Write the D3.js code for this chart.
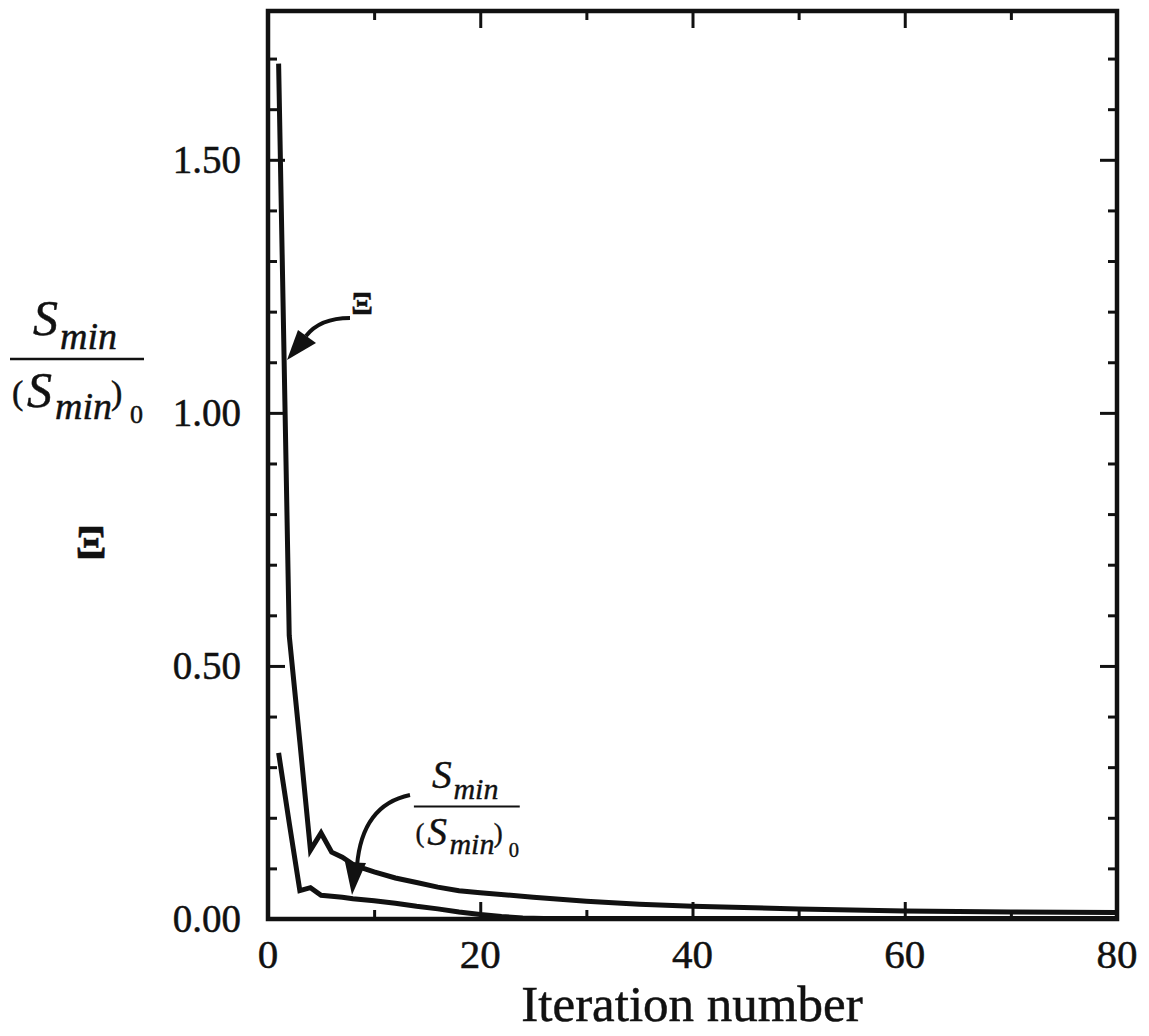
<!DOCTYPE html>
<html>
<head>
<meta charset="utf-8">
<script src="https://cdn.jsdelivr.net/npm/d3@7"></script>
<style>
  body { margin: 0; background: #fff; }
  svg text { font-family: "Liberation Serif", "Times New Roman", serif; fill: #111; stroke: #111; stroke-width: 0.5; }
</style>
</head>
<body>
<svg id="chart" width="1149" height="1036"></svg>
<script>
// iteration numbers and values
var xiIter = [1, 2, 3, 4, 5, 6, 7, 8, 9, 10, 12, 14, 16, 18, 20, 25, 30, 35, 40, 50, 60, 70, 80];
var xiVals = [1.69, 0.56, 0.35, 0.136, 0.17, 0.132, 0.122, 0.108, 0.100, 0.093, 0.081, 0.072, 0.063, 0.056, 0.052,
              0.043, 0.035, 0.029, 0.025, 0.020, 0.016, 0.014, 0.013];

var sIter = [1, 2, 3, 4, 5, 6, 7, 8, 10, 12, 14, 16, 18, 20, 22, 24, 26, 30, 40, 50, 60, 70, 80];
var sVals = [0.328, 0.19, 0.056, 0.062, 0.047, 0.045, 0.043, 0.040, 0.036, 0.031, 0.025, 0.020, 0.014, 0.009,
             0.005, 0.002, 0.001, 0.001, 0.001, 0.001, 0.001, 0.001, 0.001];

var xTicks = [0, 20, 40, 60, 80];
var yTicks = [0, 0.5, 1.0, 1.5];

var padL = 268, padR = 1117, padT = 11, padB = 919;

var svg = d3.select("#chart");

var xScale = d3.scaleLinear().domain([0, 80]).range([padL, padR]);
var yScale = d3.scaleLinear().domain([0, 1.794]).range([padB, padT]);

// inward ticks on all four sides, minor every 10 / 0.1
function drawTicks(axisFn, scale, values, len, pos) {
    svg.append("g")
        .attr("transform", pos)
        .call(axisFn(scale).tickValues(values).tickSize(len).tickFormat(""))
        .call(function (g) { g.select(".domain").remove(); })
        .selectAll("line").attr("stroke", "#111").attr("stroke-width", 3);
}
var xMinor = d3.range(10, 80, 20);
var yMinor = d3.range(1, 18).map(function (d) { return d / 10; })
    .filter(function (d) { return Math.abs(d * 2 - Math.round(d * 2)) > 1e-6; });

drawTicks(d3.axisTop, xScale, xTicks, 17, "translate(0," + padB + ")");
drawTicks(d3.axisTop, xScale, xMinor, 9, "translate(0," + padB + ")");
drawTicks(d3.axisBottom, xScale, xTicks, 17, "translate(0," + padT + ")");
drawTicks(d3.axisBottom, xScale, xMinor, 9, "translate(0," + padT + ")");
drawTicks(d3.axisRight, yScale, yTicks, 17, "translate(" + padL + ",0)");
drawTicks(d3.axisRight, yScale, yMinor, 9, "translate(" + padL + ",0)");
drawTicks(d3.axisLeft, yScale, yTicks, 17, "translate(" + padR + ",0)");
drawTicks(d3.axisLeft, yScale, yMinor, 9, "translate(" + padR + ",0)");

// tick labels
svg.append("g").selectAll("text")
    .data(xTicks).enter().append("text")
    .attr("x", function (d) { return xScale(d); })
    .attr("y", 968)
    .attr("text-anchor", "middle")
    .attr("font-size", 41)
    .text(function (d) { return d; });

svg.append("g").selectAll("text")
    .data(yTicks).enter().append("text")
    .attr("x", 241)
    .attr("y", function (d) { return yScale(d) + 13; })
    .attr("text-anchor", "end")
    .attr("font-size", 39)
    .text(function (d) { return d3.format(".2f")(d); });

// curves
var line = d3.line()
    .x(function (d) { return xScale(d[0]); })
    .y(function (d) { return yScale(d[1]); });

svg.append("path")
    .datum(d3.zip(sIter, sVals))
    .attr("d", line)
    .attr("fill", "none").attr("stroke", "#111").attr("stroke-width", 5)
    .attr("stroke-linejoin", "miter");

svg.append("path")
    .datum(d3.zip(xiIter, xiVals))
    .attr("d", line)
    .attr("fill", "none").attr("stroke", "#111").attr("stroke-width", 5)
    .attr("stroke-linejoin", "miter");

// frame
svg.append("rect")
    .attr("x", padL).attr("y", padT)
    .attr("width", padR - padL).attr("height", padB - padT)
    .attr("fill", "none").attr("stroke", "#111").attr("stroke-width", 4.5);

// axis title
svg.append("text")
    .attr("x", 692).attr("y", 1021)
    .attr("text-anchor", "middle")
    .attr("font-size", 51)
    .text("Iteration number");

// fraction label S_min / (S_min)_0
function fraction(g) {
    var num = g.append("text").attr("font-style", "italic").attr("font-size", 50);
    num.append("tspan").attr("x", 33).attr("y", 335).text("S");
    num.append("tspan").attr("x", 60).attr("y", 349).attr("font-size", 38).text("min");
    g.append("line")
        .attr("x1", 10).attr("x2", 144)
        .attr("y1", 359).attr("y2", 359)
        .attr("stroke", "#111").attr("stroke-width", 2.5);
    var den = g.append("text").attr("font-size", 50);
    den.append("tspan").attr("x", 12).attr("y", 404).attr("font-size", 34).text("(");
    den.append("tspan").attr("x", 27).attr("y", 407).attr("font-style", "italic").text("S");
    den.append("tspan").attr("x", 55).attr("y", 419).attr("font-style", "italic").attr("font-size", 38).text("min");
    den.append("tspan").attr("x", 111).attr("y", 404).attr("font-size", 34).text(")");
    den.append("tspan").attr("x", 130).attr("y", 423).attr("font-size", 26).text("0");
}
fraction(svg.append("g"));
fraction(svg.append("g").attr("transform", "translate(406,523) scale(0.79)"));

svg.append("text")
    .attr("x", 91).attr("y", 558)
    .attr("text-anchor", "middle")
    .attr("font-size", 46).attr("font-weight", "bold")
    .text("Ξ");

svg.append("text")
    .attr("x", 362).attr("y", 314)
    .attr("text-anchor", "middle")
    .attr("font-size", 32).attr("font-weight", "bold")
    .text("Ξ");

// annotation arrows
function arrow(d, tip, base1, base2) {
    svg.append("path").attr("d", d)
        .attr("fill", "none").attr("stroke", "#111").attr("stroke-width", 4);
    svg.append("path")
        .attr("d", "M" + tip + "L" + base1 + "L" + base2 + "Z")
        .attr("fill", "#111");
}
arrow("M350,318 Q320,318 306,336", [287, 360], [298, 330], [316, 343]);
arrow("M410,795 Q362,805 357,866", [352, 895], [345, 862], [366, 863]);
</script>
</body>
</html>
